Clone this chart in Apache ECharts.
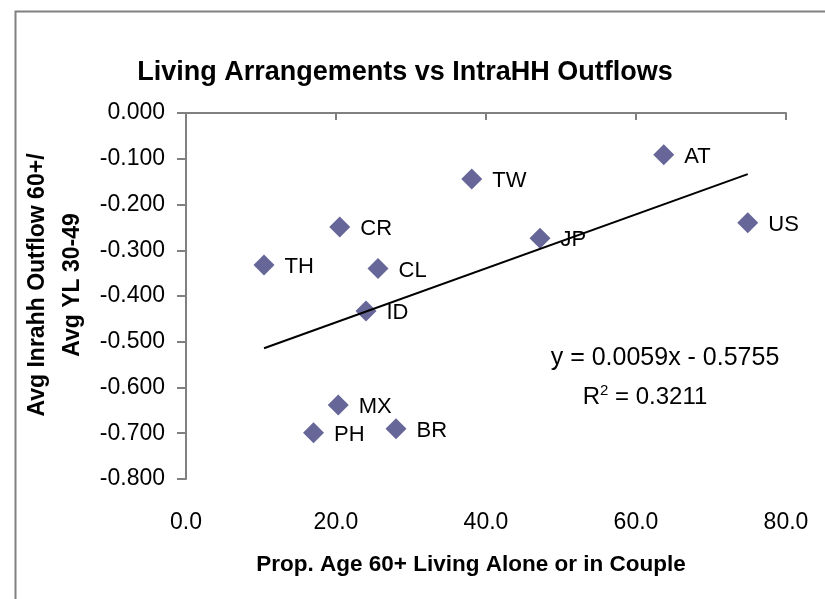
<!DOCTYPE html>
<html><head><meta charset="utf-8">
<script src="https://cdn.jsdelivr.net/npm/echarts@6/dist/echarts.min.js"></script>
<style>html,body{margin:0;padding:0;background:#fff}#c{width:825px;height:599px}</style>
</head><body><div id="c"></div>
<script>
// ---- data ----
const countries = ['TH','CR','CL','ID','TW','JP','AT','US','MX','PH','BR'];
const propAlone = [10.4, 20.5, 25.6, 24.0, 38.1, 47.2, 63.7, 74.9, 20.3, 17.0, 28.0];
const outflow   = [-0.332, -0.249, -0.340, -0.433, -0.144, -0.274, -0.091, -0.240, -0.638, -0.699, -0.690];
const trendSlope = 0.0059;
const trendIntercept = -0.5755;
const trendR2 = 0.3211;
const xRange = [0, 80, 20];
const yRange = [-0.8, 0, 0.1];

// ---- build ----
const FONT = "'Liberation Sans', Arial, sans-serif";
const points = propAlone.map((x, i) => ({ name: countries[i], value: [x, outflow[i]] }));
const xMin = Math.min(...propAlone), xMax = Math.max(...propAlone);
const trend = [[xMin, trendSlope * xMin + trendIntercept], [xMax, trendSlope * xMax + trendIntercept]];
const axisGray = '#808080';

const chart = echarts.init(document.getElementById('c'), null, { renderer: 'canvas' });
chart.setOption({
  animation: false,
  backgroundColor: '#ffffff',
  title: {
    text: 'Living Arrangements vs IntraHH Outflows',
    left: 400, top: 54, textAlign: 'center',
    textStyle: { fontFamily: FONT, fontWeight: 'bold', fontSize: 27, color: '#000' }
  },
  grid: { left: 186, top: 113, right: 39, bottom: 120, containLabel: false },
  xAxis: [
    {
      type: 'value', position: 'bottom', min: xRange[0], max: xRange[1], interval: xRange[2],
      axisLine: { show: false }, axisTick: { show: false }, splitLine: { show: false },
      axisLabel: { margin: 32, fontFamily: FONT, fontSize: 23, color: '#000', formatter: v => v.toFixed(1) }
    },
    {
      type: 'value', position: 'top', min: xRange[0], max: xRange[1], interval: xRange[2],
      axisLine: { show: true, onZero: false, lineStyle: { color: axisGray, width: 2 } },
      axisTick: { show: true, inside: true, length: 7, lineStyle: { color: axisGray, width: 2 } },
      axisLabel: { show: false }, splitLine: { show: false }
    }
  ],
  yAxis: {
    type: 'value', min: yRange[0], max: yRange[1], interval: yRange[2],
    axisLine: { show: true, onZero: false, lineStyle: { color: axisGray, width: 2 } },
    axisTick: { show: true, length: 9, lineStyle: { color: axisGray, width: 2 } },
    splitLine: { show: false },
    axisLabel: { margin: 21, fontFamily: FONT, fontSize: 23, color: '#000', formatter: v => v.toFixed(3) }
  },
  series: [
    {
      type: 'line', data: trend, xAxisIndex: 0, showSymbol: false, symbol: 'none',
      lineStyle: { color: '#000', width: 2 }, z: 3, silent: true
    },
    {
      type: 'scatter', data: points, xAxisIndex: 0, symbol: 'diamond', symbolSize: 21,
      itemStyle: { color: '#666699', opacity: 1 }, z: 2,
      label: {
        show: true, position: 'right', distance: 10, formatter: p => p.name,
        fontFamily: FONT, fontSize: 22, color: '#000', offset: [0, 2]
      }
    }
  ],
  graphic: [
    { type: 'rect', left: 13, top: 9, z: -1, silent: true,
      shape: { width: 840, height: 620 }, style: { fill: 'none', stroke: axisGray, lineWidth: 2 } },
    { type: 'text', x: 55, y: 285, rotation: Math.PI / 2, silent: true,
      style: { text: 'Avg Inrahh Outflow 60+/\nAvg YL 30-49', align: 'center', verticalAlign: 'middle',
        fontFamily: FONT, fontWeight: 'bold', fontSize: 23, lineHeight: 35, fill: '#000' } },
    { type: 'text', x: 471, y: 565, silent: true,
      style: { text: 'Prop. Age 60+ Living Alone or in Couple', align: 'center', verticalAlign: 'middle',
        fontFamily: FONT, fontWeight: 'bold', fontSize: 22.5, fill: '#000' } },
    { type: 'text', x: 665, y: 358, silent: true,
      style: { text: 'y = ' + trendSlope.toFixed(4) + 'x - ' + Math.abs(trendIntercept).toFixed(4),
        align: 'center', verticalAlign: 'middle', fontFamily: FONT, fontSize: 25, fill: '#000' } },
    { type: 'text', x: 645, y: 397, silent: true,
      style: { text: 'R{s|2} = ' + trendR2.toFixed(4), align: 'center', verticalAlign: 'middle',
        fontFamily: FONT, fontSize: 24, fill: '#000',
        rich: { s: { fontFamily: FONT, fontSize: 15, verticalAlign: 'top', padding: [0, 0, 13, 0] } } } }
  ]
});
</script></body></html>
